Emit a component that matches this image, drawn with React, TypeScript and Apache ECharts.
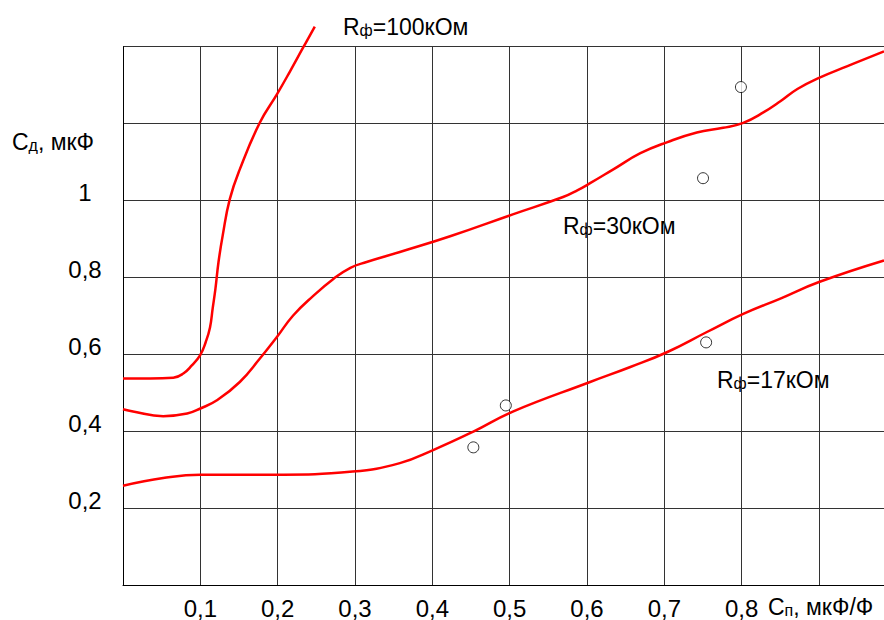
import React, { useEffect, useRef } from "react";
import * as echarts from "echarts";

// Curve R=100 kOhm: [Cп, Cд]
const r100: number[][] = [
  [0, 0.537], [0.035, 0.537], [0.065, 0.539], [0.078, 0.55], [0.089, 0.571],
  [0.0996, 0.597], [0.107, 0.632], [0.1125, 0.67], [0.116, 0.72], [0.1195, 0.77],
  [0.1235, 0.84], [0.129, 0.91], [0.138, 1.003], [0.151, 1.081], [0.177, 1.203],
  [0.199, 1.276], [0.216, 1.336], [0.233, 1.398], [0.248, 1.452],
];
// Curve R=30 kOhm
const r30: number[][] = [
  [0, 0.457], [0.013, 0.451], [0.052, 0.439], [0.083, 0.446], [0.1, 0.459],
  [0.122, 0.481], [0.151, 0.528], [0.177, 0.589], [0.199, 0.645], [0.22, 0.701],
  [0.246, 0.752], [0.272, 0.796], [0.294, 0.825], [0.315, 0.84], [0.358, 0.866],
  [0.423, 0.907], [0.504, 0.964], [0.569, 1.009], [0.588, 1.027], [0.604, 1.045],
  [0.634, 1.081], [0.669, 1.123], [0.704, 1.152], [0.742, 1.177], [0.776, 1.189],
  [0.802, 1.202], [0.828, 1.229], [0.85, 1.258], [0.872, 1.29], [0.9, 1.319],
  [0.936, 1.349], [0.984, 1.388],
];
// Curve R=17 kOhm
const r17: number[][] = [
  [0, 0.258], [0.052, 0.278], [0.1, 0.287], [0.199, 0.287], [0.297, 0.295],
  [0.358, 0.317], [0.401, 0.351], [0.453, 0.399], [0.504, 0.451], [0.604, 0.528],
  [0.656, 0.567], [0.704, 0.606], [0.755, 0.658], [0.802, 0.705], [0.85, 0.745],
  [0.9, 0.788], [0.984, 0.844],
];
// Measured points
const measured: number[][] = [
  [0.799, 1.295], [0.75, 1.058], [0.754, 0.631], [0.495, 0.467], [0.453, 0.358],
];

const xTicks = [0.1, 0.2, 0.3, 0.4, 0.5, 0.6, 0.7, 0.8];
const yTicks = [0.2, 0.4, 0.6, 0.8, 1.0];

const FONT = "'Liberation Sans', Arial, sans-serif";

function fmt(v: number): string {
  const r = Math.round(v * 10) / 10;
  return String(r).replace(".", ",");
}

function near(list: number[], v: number) {
  return list.some((t) => Math.abs(t - v) < 1e-6);
}

const mainTok = { fontSize: 23, fontFamily: FONT, fill: "#000", color: "#000", verticalAlign: "bottom", lineHeight: 22 };
const subTok = { fontSize: 16, fontFamily: FONT, fill: "#000", color: "#000", verticalAlign: "bottom", lineHeight: 8 };

function label(x: number, y: number, a: string, s: string, b: string) {
  return {
    type: "text",
    x,
    y,
    style: {
      text: `{a|${a}}{s|${s}}{a|${b}}`,
      verticalAlign: "middle",
      align: "left",
      fontFamily: FONT,
      rich: { a: mainTok, s: subTok },
    },
  };
}

export default function App() {
  const ref = useRef<HTMLDivElement>(null);
  useEffect(() => {
    if (!ref.current) return;
    const chart = echarts.init(ref.current, undefined, { renderer: "svg" });
    const lineSeries = (data: number[][]) => ({
      type: "line",
      data,
      smooth: 0.45,
      showSymbol: false,
      clip: false,
      lineStyle: { color: "#ff0000", width: 2.5 },
      z: 3,
    });
    chart.setOption({
      animation: false,
      backgroundColor: "#fff",
      grid: { left: 123, right: 16, top: 46.7, bottom: 32.7 },
      xAxis: {
        type: "value",
        min: 0,
        max: 0.984,
        interval: 0.1,
        axisLine: { show: true, lineStyle: { color: "#000", width: 1 } },
        axisTick: { show: false },
        splitLine: { show: true, lineStyle: { color: "#333", width: 1 } },
        axisLabel: {
          margin: 11,
          fontSize: 24,
          fontFamily: FONT,
          color: "#000",
          formatter: (v: number) => (near(xTicks, v) ? fmt(v) : ""),
        },
      },
      yAxis: {
        type: "value",
        min: 0,
        max: 1.4,
        interval: 0.2,
        axisLine: { show: true, lineStyle: { color: "#000", width: 1 } },
        axisTick: { show: false },
        splitLine: { show: true, lineStyle: { color: "#333", width: 1 } },
        axisLabel: {
          margin: 38,
          align: "center",
          verticalAlign: "bottom",
          lineHeight: 16,
          fontSize: 24,
          fontFamily: FONT,
          color: "#000",
          formatter: (v: number) => (near(yTicks, v) ? fmt(v) : ""),
        },
      },
      series: [
        lineSeries(r100),
        lineSeries(r30),
        lineSeries(r17),
        {
          type: "scatter",
          data: measured,
          symbol: "circle",
          symbolSize: 11,
          itemStyle: { color: "#fff", borderColor: "#000", borderWidth: 1 },
          z: 4,
        },
      ],
      graphic: [
        label(343, 27, "R", "ф", "=100кОм"),
        label(563, 226, "R", "ф", "=30кОм"),
        label(717, 380, "R", "ф", "=17кОм"),
        label(12, 142, "С", "д", ", мкФ"),
        label(768, 607, "С", "п", ", мкФ/Ф"),
      ],
    });
    return () => chart.dispose();
  }, []);
  return (
    <div
      ref={ref}
      style={{ position: "fixed", left: 0, top: 0, width: 900, height: 620, background: "#fff" }}
    />
  );
}
